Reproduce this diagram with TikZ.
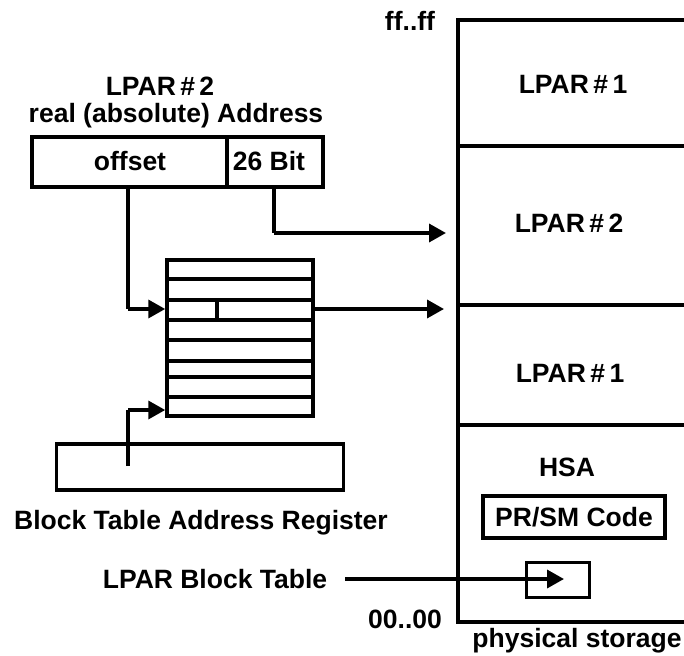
\documentclass[tikz,border=0pt]{standalone}
\usepackage{fontspec}
\setmainfont{Liberation Sans}
\usetikzlibrary{arrows.meta}
\begin{document}
\begin{tikzpicture}[x=1pt,y=-1pt,
  ln/.style={line width=3.5pt},
  arr/.style={line width=3.5pt,-{Triangle[length=17pt,width=18pt]}},
  lbl/.style={font=\fontsize{26.5}{29}\selectfont\bfseries,inner sep=0pt},
  box/.style={draw,line width=3.5pt,inner sep=0pt}]
\useasboundingbox (0,0) rectangle (684,655);
% physical storage
\coordinate (sTL) at (458,20);
\coordinate (sBL) at (458,622);
\draw[ln] (690,20) -- (sTL) -- (sBL) -- (690,622);
\draw[ln] (458,146) -- (690,146);
\draw[ln] (458,305) -- (690,305);
\draw[ln] (458,425) -- (690,425);
\node[lbl] (ff) at (410,21) {ff..ff};
\node[lbl] (zz) at (405,619) {00..00};
\node[lbl] (phys) at (577,641) {physical storage};
\node[lbl] (l1a) at (573,84) {LPAR\,\#\,1};
\node[lbl] (l2) at (569,223) {LPAR\,\#\,2};
\node[lbl] (l1b) at (570,373) {LPAR\,\#\,1};
\node[lbl] (hsa) at (567,467) {HSA};
\node[box,minimum width=182pt,minimum height=42pt] (prsm) at (574,517) {\fontsize{26.5}{29}\selectfont\bfseries PR/SM Code};
\node[box,minimum width=63pt,minimum height=35pt] (lbt) at (558,580) {};
% address
\node[lbl] (t1) at (160,86) {LPAR\,\#\,2};
\node[lbl] (t2) at (176,116) {real (absolute) Address};
\node[box,minimum width=195pt,minimum height=50pt] (off) at (129.5,162) {};
\node[box,minimum width=96pt,minimum height=50pt] (bit) at (275,162) {};
\node[lbl] at (130,161) {offset};
\node[lbl] at (269,161) {26 Bit};
% block table
\node[box,minimum width=146pt,minimum height=156pt] (tab) at (240,338) {};
\foreach \yy in {279,300,320,340,361,377,397}
  \draw[ln] (tab.west |- 0,\yy) -- (tab.east |- 0,\yy);
\draw[ln] (217,300) -- (217,320);
% register
\node[box,minimum width=287pt,minimum height=46pt] (reg) at (200,467) {};
\node[lbl] (regl) at (201,523) {Block Table Address Register};
\node[lbl] (lbtl) at (215,579) {LPAR Block Table};
% connectors
\coordinate (c1) at (128,309);
\draw[ln] (128,187) -- (c1);
\draw[arr] (c1) -- (tab.west |- c1);
\coordinate (c2) at (274,233);
\draw[ln] (274,187) -- (c2);
\draw[arr] (c2) -- (446,233);
\draw[arr] (tab.east |- c1) -- (444,309);
\coordinate (c3) at (128,410);
\draw[ln] (128,466) -- (c3);
\draw[arr] (c3) -- (tab.west |- c3);
\coordinate (c4) at (345,579);
\draw[arr] (c4) -- (564,579);
\end{tikzpicture}
\end{document}
